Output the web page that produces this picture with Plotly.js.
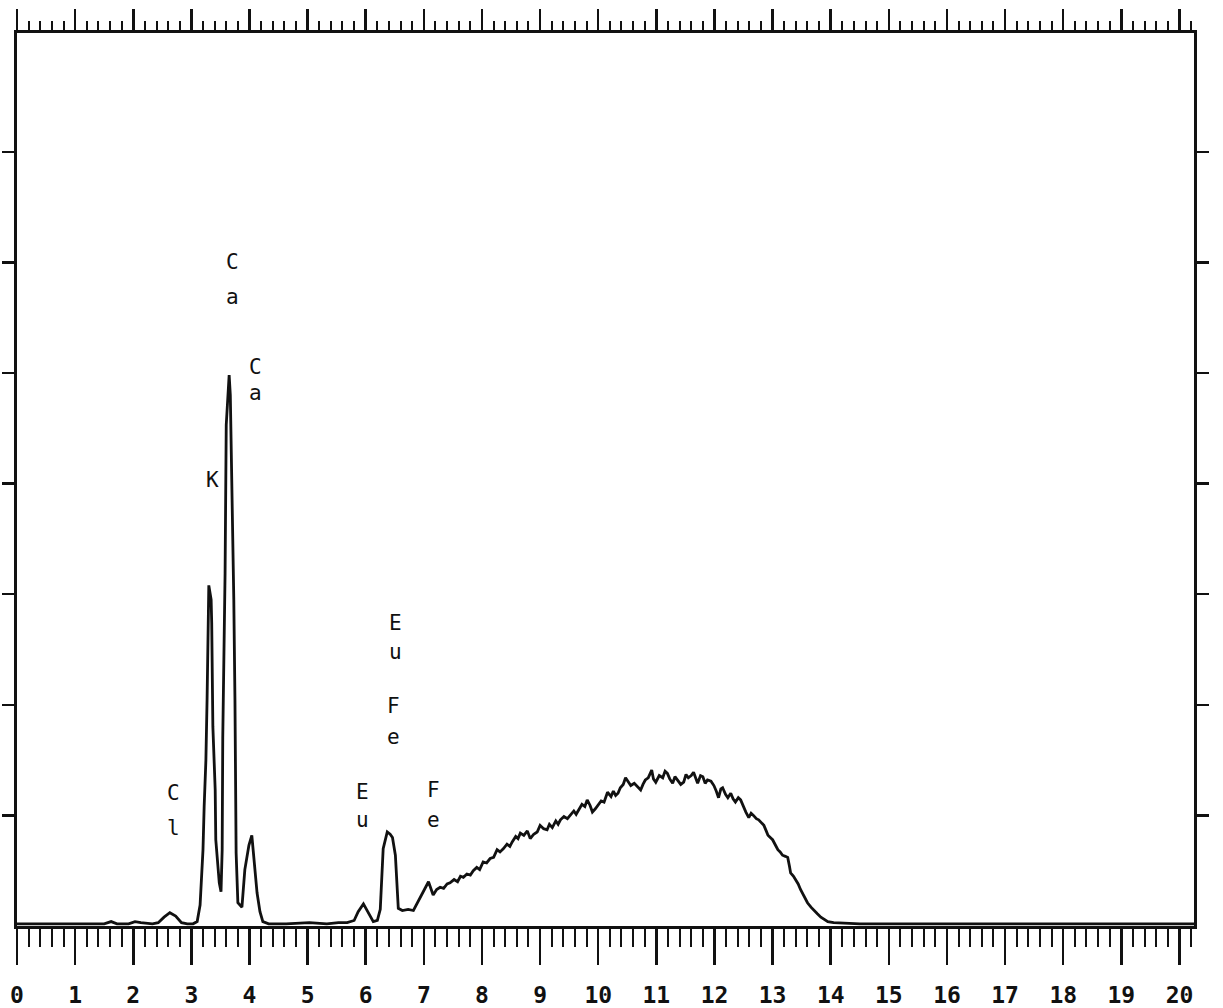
<!DOCTYPE html>
<html>
<head>
<meta charset="utf-8">
<script src="https://cdn.plot.ly/plotly-3.0.1.min.js"></script>
<style>
  html, body { margin: 0; padding: 0; background: #ffffff; }
  #chart { width: 1223px; height: 1008px; }
</style>
</head>
<body>
<div id="chart"></div>
<script>
// Energy (keV) of each spectrum point
const energy = [
  0.00, 0.50, 1.00, 1.50, 1.62, 1.72, 1.92, 2.03, 2.13, 2.33, 2.43, 2.53, 2.63, 2.73, 2.83, 2.93, 3.03,
  3.10, 3.15, 3.18, 3.20, 3.22, 3.25, 3.27, 3.28, 3.30, 3.34, 3.35, 3.37, 3.41, 3.42, 3.48, 3.51,
  3.53, 3.54, 3.56, 3.58, 3.60, 3.63, 3.65, 3.67, 3.68, 3.72, 3.73, 3.75, 3.77, 3.80, 3.87,
  3.92, 3.99, 4.04, 4.08, 4.13, 4.18, 4.23, 4.33, 4.63, 5.03, 5.33, 5.53, 5.68,
  5.80, 5.87, 5.96, 6.04, 6.13, 6.20, 6.25, 6.30, 6.37, 6.42, 6.46, 6.51, 6.56, 6.63, 6.73, 6.82,
  6.90, 6.99, 7.08, 7.16, 7.22, 7.28, 7.34, 7.40, 7.45, 7.52, 7.58, 7.63, 7.68, 7.74, 7.80, 7.85,
  7.91, 7.96, 8.02, 8.08, 8.14, 8.20, 8.26, 8.31, 8.37, 8.43, 8.48, 8.52, 8.58, 8.62, 8.66, 8.72,
  8.78, 8.83, 8.89, 8.95, 9.00, 9.06, 9.12, 9.16, 9.21, 9.27, 9.31, 9.35, 9.41, 9.47, 9.52, 9.58,
  9.62, 9.66, 9.72, 9.77, 9.81, 9.86, 9.90, 9.95, 10.00, 10.05, 10.10, 10.16, 10.22, 10.26, 10.30,
  10.34, 10.38, 10.43, 10.47, 10.52, 10.56, 10.62, 10.68, 10.73, 10.77, 10.81, 10.86, 10.92, 10.95,
  10.99, 11.05, 11.11, 11.15, 11.19, 11.23, 11.28, 11.32, 11.37, 11.42, 11.47, 11.51, 11.55, 11.60,
  11.64, 11.68, 11.71, 11.76, 11.80, 11.84, 11.88, 11.94, 11.99, 12.03, 12.07, 12.11, 12.14, 12.19,
  12.23, 12.28, 12.32, 12.36, 12.41, 12.45, 12.50, 12.54, 12.59, 12.63, 12.67, 12.72, 12.76, 12.81,
  12.85, 12.89, 12.92, 12.96, 13.00, 13.05, 13.09, 13.13, 13.17, 13.22, 13.26, 13.29, 13.31, 13.36,
  13.40, 13.44, 13.48, 13.54, 13.60, 13.66, 13.71, 13.77, 13.83, 13.89, 13.95, 14.05, 14.50, 15.00,
  16.00, 17.00, 18.00, 19.00, 20.00, 20.25
];
// Counts (arbitrary units; one y tick division = 100)
const counts = [
  2, 2, 2, 2, 4, 2, 2, 4, 3, 2, 3, 8, 12, 9, 3, 2, 2,
  4, 19, 44, 69, 108, 150, 204, 259, 308, 295, 274, 180, 123, 78, 39, 31,
  69, 170, 250, 319, 453, 476, 498, 480, 451, 356, 295, 204, 66, 21, 17,
  51, 73, 82, 60, 30, 13, 4, 2, 2, 3, 2, 3, 3,
  5, 13, 20, 13, 4, 5, 15, 70, 85, 83, 80, 64, 16, 14, 15, 14,
  22, 32, 40, 28, 33, 35, 34, 38, 39, 42, 40, 45, 44, 47, 46, 50,
  53, 51, 58, 57, 61, 62, 69, 67, 70, 74, 72, 76, 81, 79, 84, 82,
  86, 79, 83, 85, 91, 88, 87, 92, 89, 95, 92, 96, 99, 97, 100, 104,
  101, 105, 110, 108, 114, 109, 103, 106, 109, 113, 112, 121, 117, 122, 118,
  120, 125, 128, 134, 130, 127, 129, 126, 123, 128, 132, 134, 141, 133,
  130, 136, 134, 140, 138, 133, 129, 135, 132, 128, 130, 137, 134, 136,
  139, 133, 129, 136, 135, 129, 132, 131, 127, 122, 116, 124, 125, 119,
  116, 120, 115, 112, 116, 114, 107, 103, 98, 102, 100, 97, 96, 93,
  91, 86, 82, 80, 78, 73, 69, 67, 64, 63, 62, 54, 48, 45,
  42, 38, 33, 27, 21, 17, 14, 11, 8, 6, 4, 3, 2, 2,
  2, 2, 2, 2, 2, 2
];
// Axis tick labels
const tickVals = [0,1,2,3,4,5,6,7,8,9,10,11,12,13,14,15,16,17,18,19,20];
const tickLabels = ['0','1','2','3','4','5','6','7','8','9','10','11','12','13','14','15','16','17','18','19','20'];
const yTickVals = [100, 200, 300, 400, 500, 600, 700];
// Peak labels (one letter each, printed vertically)
const peakLetters = ['C','a','C','a','K','C','l','E','u','F','e','E','u','F','e'];
const peakLetterX = [3.70,3.70,4.10,4.10,3.37,2.70,2.70,5.94,5.94,7.17,7.17,6.52,6.52,6.47,6.47];
const peakLetterY = [600,569,505,482,403,120,89,121,96,123,96,274,248,199,171];

const X_RANGE = [0, 20.25];
const Y_RANGE = [0, 807.4];
const FONT = 'DejaVu Sans Mono, Liberation Mono, monospace';

const traces = [
  {
    x: energy, y: counts, type: 'scatter', mode: 'lines',
    line: { color: '#111111', width: 2.8 },
    hoverinfo: 'skip', showlegend: false
  },
  {
    x: energy, y: counts, type: 'scatter', mode: 'lines', xaxis: 'x2',
    line: { color: 'rgba(0,0,0,0)', width: 0 }, opacity: 0,
    hoverinfo: 'skip', showlegend: false
  }
];

const annotations = peakLetters.map((t, i) => ({
  x: peakLetterX[i], y: peakLetterY[i], xref: 'x', yref: 'y',
  text: t, showarrow: false, xanchor: 'center', yanchor: 'middle',
  font: { family: FONT, size: 21, color: '#111111' }
}));

const layout = {
  width: 1223, height: 1008,
  margin: { l: 17, r: 29, t: 33, b: 82, pad: 0 },
  paper_bgcolor: '#ffffff', plot_bgcolor: '#ffffff',
  showlegend: false,
  xaxis: {
    range: X_RANGE, showgrid: false, zeroline: false,
    showline: true, linecolor: '#111111', linewidth: 3, mirror: true,
    ticks: 'outside', ticklen: 36, tickwidth: 2.5, tickcolor: '#111111',
    tickmode: 'array', tickvals: tickVals, ticktext: tickLabels,
    ticklabelstandoff: 10,
    tickfont: { family: FONT, size: 23, color: '#111111', weight: 'bold' },
    minor: { dtick: 0.2, tick0: 0, ticks: 'outside', ticklen: 18, tickwidth: 2, tickcolor: '#111111', showgrid: false }
  },
  xaxis2: {
    overlaying: 'x', side: 'top', anchor: 'y',
    range: X_RANGE, showgrid: false, zeroline: false, showline: false,
    ticks: 'outside', ticklen: 23, tickwidth: 2.5, tickcolor: '#111111',
    tickmode: 'linear', tick0: 0, dtick: 1, showticklabels: false,
    minor: { dtick: 0.2, tick0: 0, ticks: 'outside', ticklen: 11, tickwidth: 2, tickcolor: '#111111', showgrid: false }
  },
  yaxis: {
    range: Y_RANGE, showgrid: false, zeroline: false,
    showline: true, linecolor: '#111111', linewidth: 3, mirror: 'ticks',
    ticks: 'outside', ticklen: 12, tickwidth: 2.5, tickcolor: '#111111',
    tickmode: 'array', tickvals: yTickVals, showticklabels: false
  },
  annotations: annotations
};

Plotly.newPlot('chart', traces, layout, { displayModeBar: false, staticPlot: true });
</script>
</body>
</html>
